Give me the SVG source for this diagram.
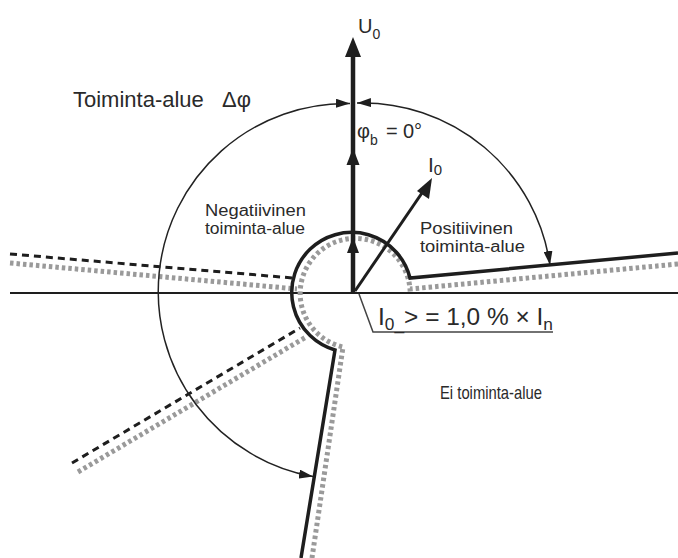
<svg xmlns="http://www.w3.org/2000/svg" width="678" height="558" viewBox="0 0 678 558">
<style>
  .txt { font-family: "Liberation Sans", Arial, sans-serif; fill: #2a2a2a; }
  .dark { fill: none; stroke: #1e1e1e; stroke-width: 3.5; stroke-linejoin: miter; }
  .gray { fill: none; stroke: #9a9a9a; stroke-width: 5; stroke-dasharray: 3.5 3; }
  .dash { fill: none; stroke: #1e1e1e; stroke-width: 3; stroke-dasharray: 7 5; }
  .arc { fill: none; stroke: #222; stroke-width: 1.5; marker-start: url(#ah); marker-end: url(#ah); }
  .head { fill: #1e1e1e; }
</style>
<defs>
  <marker id="ah" viewBox="0 0 14 9" refX="14" refY="4.5" markerWidth="14" markerHeight="9" orient="auto-start-reverse" markerUnits="userSpaceOnUse">
    <path d="M0,0 L14,4.5 L0,9 z" fill="#1e1e1e"/>
  </marker>
</defs>
<rect width="678" height="558" fill="#ffffff"/>

<g id="connectors">
  <!-- horizontal axis -->
  <line x1="10" y1="293" x2="678" y2="293" stroke="#1e1e1e" stroke-width="2"/>
  <!-- upper-left boundary -->
  <line class="gray" x1="10" y1="263" x2="297" y2="289"/>
  <line class="dash" x1="10" y1="254" x2="293" y2="278"/>
  <!-- lower-left boundary -->
  <line class="gray" x1="78" y1="472" x2="306" y2="337"/>
  <line class="dash" x1="72" y1="463" x2="300" y2="328"/>
  <!-- operating boundary gray -->
  <path class="gray" d="M678,264 L410,289 A55,55 0 1 0 343,347 L312,558"/>
  <!-- operating boundary dark -->
  <path class="dark" d="M678,253 L410,278 A60,60 0 1 0 335,350 L301,558"/>
  <!-- angle arcs -->
  <path class="arc" d="M350,103.5 A188,188 0 0 0 313,476.5"/>
  <path class="arc" d="M357,103 A189.5,189.5 0 0 1 550,265"/>
  <!-- leader line -->
  <polyline points="359,294 373,332 553,332" fill="none" stroke="#444" stroke-width="1.5"/>
</g>

<g id="U0">
  <line x1="353" y1="293" x2="353" y2="52" stroke="#1e1e1e" stroke-width="4.5"/>
  <polygon class="head" points="353,37 361,57 345,57"/>
  <polygon class="head" points="353,148 359.5,165 346.5,165"/>
  <polygon class="head" points="353,237 359,253 347,253"/>
  <text class="txt" x="358" y="33" font-size="20">U<tspan font-size="14" dy="6">0</tspan></text>
</g>

<g id="I0">
  <line x1="355" y1="291" x2="424" y2="190" stroke="#1e1e1e" stroke-width="3"/>
  <polygon class="head" points="432,178 429,199 417,191"/>
  <text class="txt" x="428" y="172" font-size="21">I<tspan font-size="15" dy="3">0</tspan></text>
</g>

<g id="phib">
  <text class="txt" x="357" y="138" font-size="20">φ<tspan font-size="14" dy="7">b</tspan><tspan x="386" dy="-7">=</tspan><tspan x="403">0°</tspan></text>
</g>

<g id="toiminta-alue">
  <text class="txt" x="73" y="107" font-size="22">Toiminta-alue<tspan x="222">Δφ</tspan></text>
</g>

<g id="negatiivinen">
  <text class="txt" x="205" y="216" font-size="16" textLength="101" lengthAdjust="spacingAndGlyphs">Negatiivinen</text>
  <text class="txt" x="205" y="234" font-size="16" textLength="100" lengthAdjust="spacingAndGlyphs">toiminta-alue</text>
</g>

<g id="positiivinen">
  <text class="txt" x="420" y="234" font-size="16" textLength="93" lengthAdjust="spacingAndGlyphs">Positiivinen</text>
  <text class="txt" x="420" y="252" font-size="16" textLength="105" lengthAdjust="spacingAndGlyphs">toiminta-alue</text>
</g>

<g id="ei-toiminta">
  <text class="txt" x="440" y="399" font-size="19" textLength="102" lengthAdjust="spacingAndGlyphs">Ei toiminta-alue</text>
</g>

<g id="threshold">
  <text class="txt" x="378" y="325" font-size="24" textLength="175" lengthAdjust="spacingAndGlyphs">I<tspan font-size="17" dy="5">0_</tspan><tspan dy="-5">&gt; = 1,0 % × I</tspan><tspan font-size="17" dy="5">n</tspan></text>
</g>
</svg>
